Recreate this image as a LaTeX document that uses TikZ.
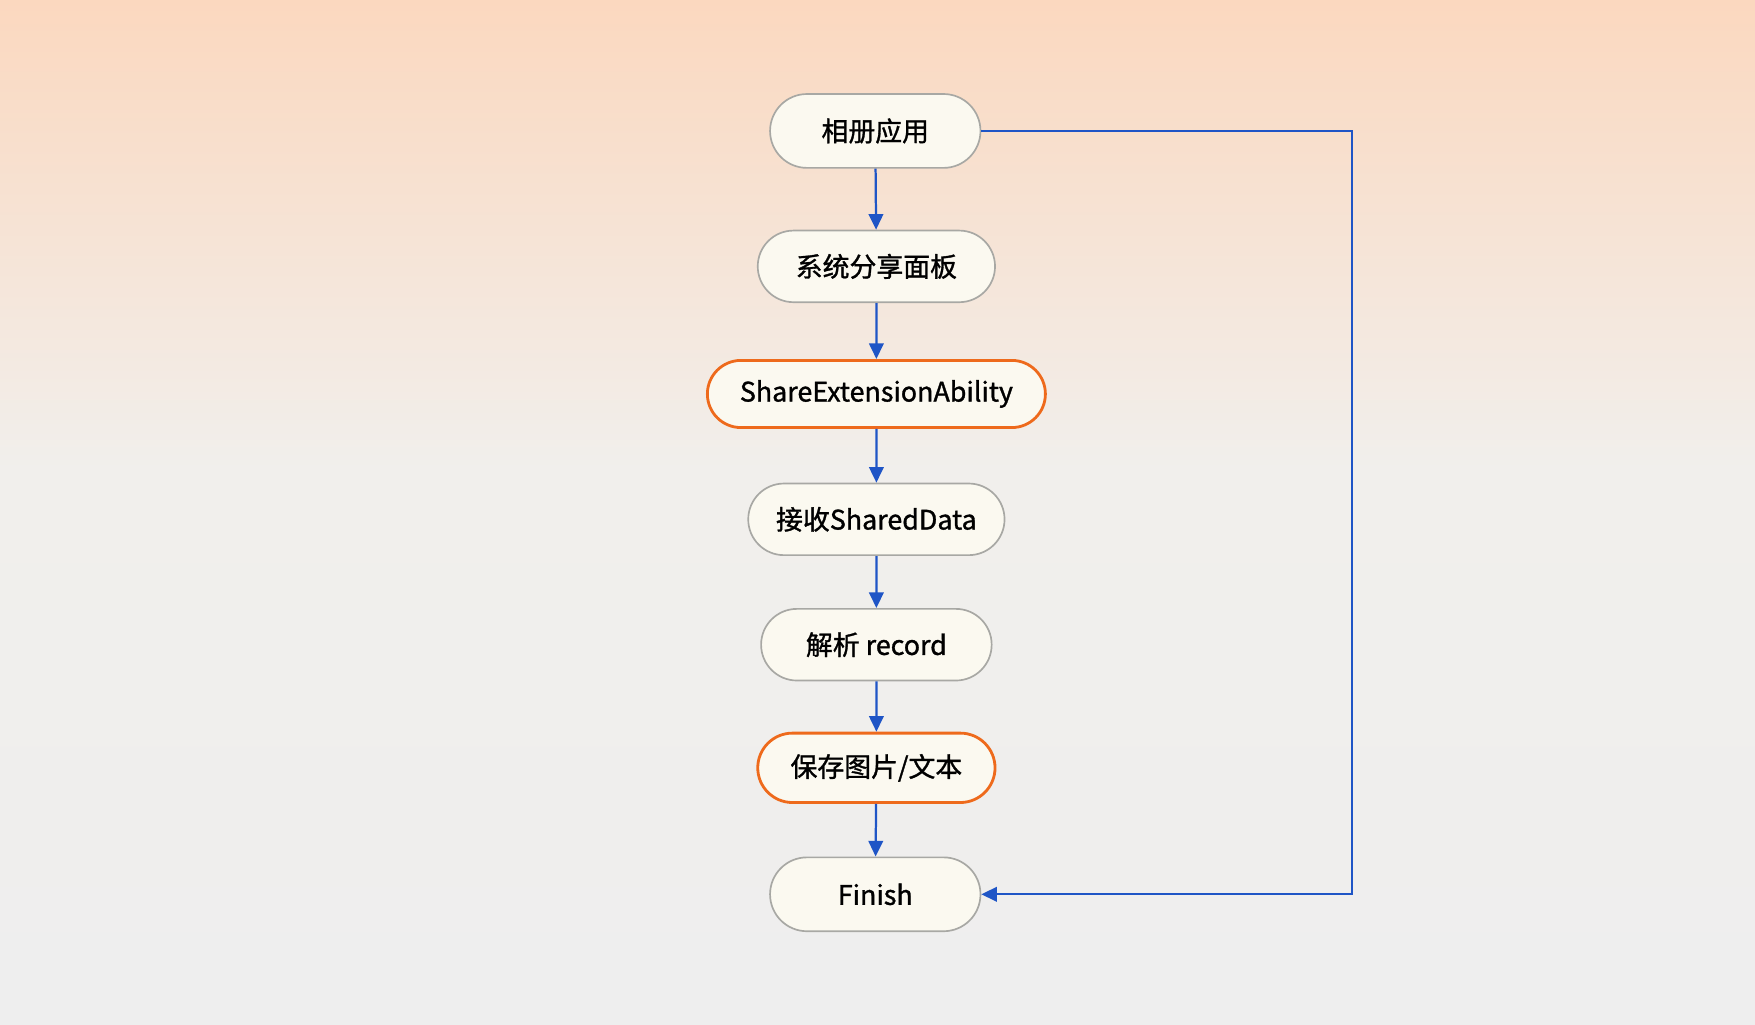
\documentclass[tikz,border=0pt]{standalone}
\usepackage{fontspec}
\newfontfamily\cjk[FakeBold=1.2]{Noto Sans CJK SC}
\usetikzlibrary{arrows.meta,shapes.misc}
\definecolor{peach}{HTML}{FBD8BF}
\definecolor{bgmid}{HTML}{F1EFEC}
\definecolor{bgbot}{HTML}{EEEEEE}
\definecolor{cream}{HTML}{FBF9F0}
\definecolor{edgegray}{HTML}{A8A8A4}
\definecolor{orng}{HTML}{EE6A1C}
\definecolor{blu}{HTML}{1F55C6}
\begin{document}
\begin{tikzpicture}[x=1pt,y=-1pt,
  box/.style={rounded rectangle,draw=edgegray,line width=1.5pt,fill=cream,
    font=\cjk\fontsize{24}{28}\selectfont,text=black,inner sep=0pt},
  hot/.style={box,draw=orng,line width=2.5pt},
  arr/.style={draw=blu,line width=2pt,-{Triangle[length=14pt,width=13pt]}}]
\useasboundingbox (0,0) rectangle (1568,915);
\shade[top color=peach,bottom color=bgmid] (0,0) rectangle (1568,420);
\shade[top color=bgmid,bottom color=bgbot] (0,420) rectangle (1568,915);
\node[box,minimum width=188pt,minimum height=66pt] (a) at (782,117) {相册应用};
\node[box,minimum width=212pt,minimum height=64pt] (b) at (783,238) {系统分享面板};
\node[hot,minimum width=302pt,minimum height=60pt] (c) at (783,352) {ShareExtensionAbility};
\node[box,minimum width=229pt,minimum height=64pt] (d) at (783,464) {接收SharedData};
\node[box,minimum width=206pt,minimum height=64pt] (e) at (783,576) {解析 record};
\node[hot,minimum width=212pt,minimum height=62pt] (f) at (783,686) {保存图片/文本};
\node[box,minimum width=188pt,minimum height=66pt] (g) at (782,799) {Finish};
\coordinate (r1) at (1208,117);
\coordinate (r2) at (1208,799);
\draw[arr] (a) -- (b);
\draw[arr] (b) -- (c);
\draw[arr] (c) -- (d);
\draw[arr] (d) -- (e);
\draw[arr] (e) -- (f);
\draw[arr] (f) -- (g);
\draw[arr] (a.east) -- (r1) -- (r2) -- (g.east);
\end{tikzpicture}
\end{document}
